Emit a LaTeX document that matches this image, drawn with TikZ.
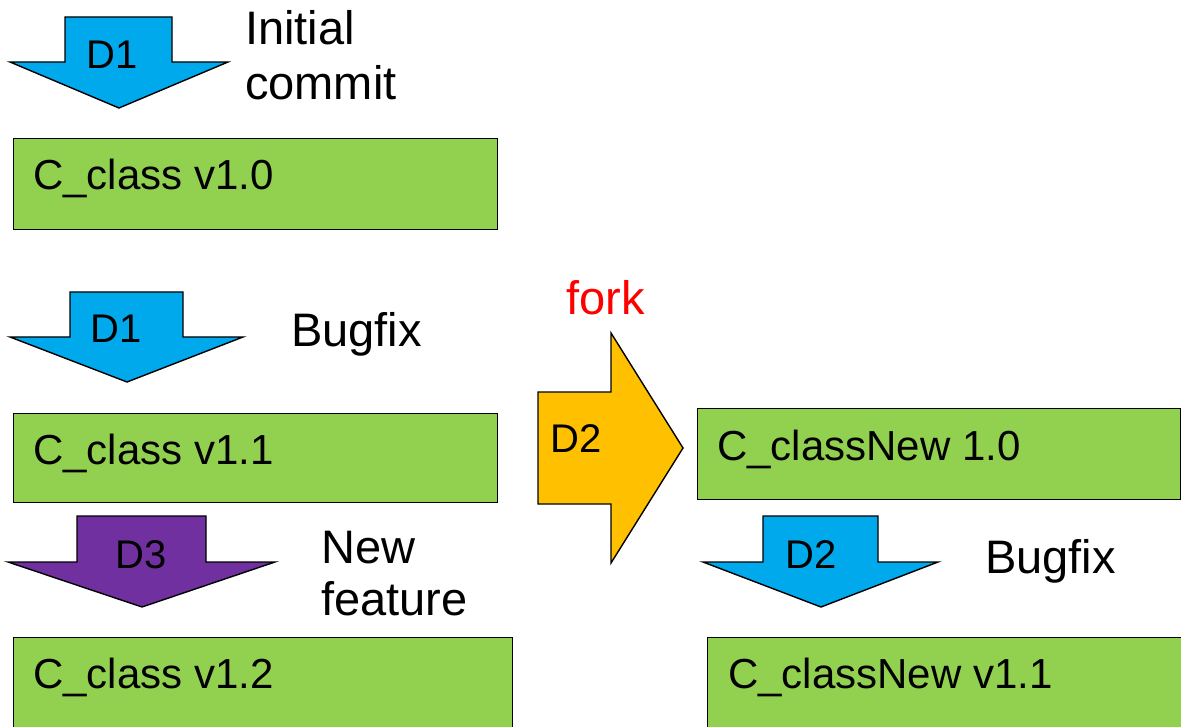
\documentclass[tikz,border=0pt]{standalone}
\usepackage{fontspec}
\setmainfont{Liberation Sans}
\definecolor{fixblue}{HTML}{00A8EC}
\definecolor{boxgreen}{HTML}{92D050}
\definecolor{featpurple}{HTML}{7030A0}
\definecolor{forkgold}{HTML}{FFC000}
\definecolor{forkred}{HTML}{FF0000}
\tikzset{
  version/.style={draw=black, line width=1.4pt, fill=boxgreen, inner sep=0pt, anchor=north west},
  blockarrow/.style={draw=black, line width=1.4pt, line join=miter},
  lbl/.style={inner sep=0pt, anchor=base west, font=\fontsize{47}{55}\selectfont},
  vtext/.style={inner sep=0pt, anchor=base west, font=\fontsize{42}{50}\selectfont},
  dtag/.style={inner sep=0pt, anchor=base west, font=\fontsize{40}{48}\selectfont},
}
\begin{document}
\begin{tikzpicture}[x=1pt, y=-1pt]
\useasboundingbox (0,0) rectangle (1181,727);
\begin{scope}
\clip (0,0) rectangle (1181,727);
\fill[white] (0,0) rectangle (1181,727);

% main line of the class
\draw[blockarrow, fill=fixblue] (65,17) -- (172,17) -- (172,62) -- (228,62) -- (119,108) -- (10,62) -- (65,62) -- cycle;
\node[dtag] (d1a) at (86,69) {D1};
\node[lbl] (initial) at (245,45) {Initial};
\node[lbl] (commit) at (245,100) {commit};

\node[version, minimum width=484pt, minimum height=91pt] (v10) at (13,138) {};
\node[vtext] (v10t) at (33,190) {C\_class v1.0};

\draw[blockarrow, fill=fixblue] (70,292) -- (183,292) -- (183,337) -- (243,337) -- (127,382) -- (10,337) -- (70,337) -- cycle;
\node[dtag] (d1b) at (90,343) {D1};
\node[lbl] (bugfixa) at (291,347) {Bugfix};

\node[version, minimum width=484pt, minimum height=89pt] (v11) at (13,413) {};
\node[vtext] (v11t) at (33,464) {C\_class v1.1};

\draw[blockarrow, fill=featpurple] (77,516) -- (206,516) -- (206,562) -- (275,562) -- (142,607) -- (8,562) -- (77,562) -- cycle;
\node[dtag] (d3) at (115,568) {D3};
\node[lbl] (new) at (321,563) {New};
\node[lbl] (feature) at (321,615) {feature};

\node[version, minimum width=499pt, minimum height=110pt] (v12) at (13,637) {};
\node[vtext] (v12t) at (33,688) {C\_class v1.2};

% fork into the new class
\node[lbl, text=forkred] (fork) at (566,315) {fork};
\draw[blockarrow, fill=forkgold] (538,392) -- (611,392) -- (611,333) -- (683,448) -- (611,563) -- (611,504) -- (538,504) -- cycle;
\node[dtag] (d2a) at (550,452) {D2};

\node[version, minimum width=483pt, minimum height=91pt] (n10) at (697,408) {};
\node[vtext] (n10t) at (717,460) {C\_classNew 1.0};

\draw[blockarrow, fill=fixblue] (763,516) -- (878,516) -- (878,562) -- (938,562) -- (821,607) -- (703,562) -- (763,562) -- cycle;
\node[dtag] (d2b) at (785,568) {D2};
\node[lbl] (bugfixb) at (985,573) {Bugfix};

\node[version, minimum width=490pt, minimum height=110pt] (n11) at (707,637) {};
\node[vtext] (n11t) at (728,688) {C\_classNew v1.1};
\end{scope}
\end{tikzpicture}
\end{document}
